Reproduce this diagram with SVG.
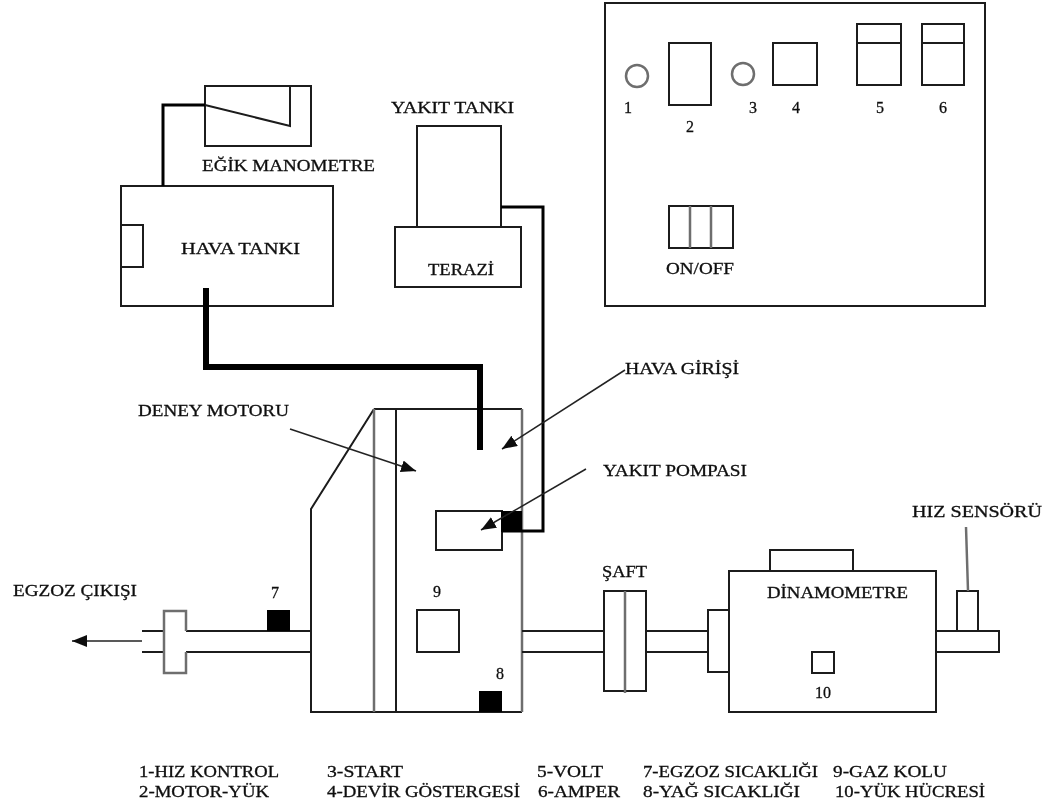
<svg xmlns="http://www.w3.org/2000/svg" width="1042" height="807" viewBox="0 0 1042 807">
<defs>
<marker id="ah" markerUnits="userSpaceOnUse" markerWidth="16" markerHeight="14" refX="15" refY="6" orient="auto"><path d="M0 0L15 6L0 12Z" fill="#111"/></marker>
<filter id="soft" x="-5%" y="-5%" width="110%" height="110%"><feGaussianBlur stdDeviation="0.4"/></filter>
</defs>
<style>
.s{fill:#fff;stroke:#1a1a1a;stroke-width:2}
.n{fill:none;stroke:#1a1a1a;stroke-width:2}
.g{fill:none;stroke:#6e6e6e;stroke-width:2.5}
.b{fill:#000;stroke:none}
.t3{fill:none;stroke:#000;stroke-width:3}
.t5{fill:none;stroke:#000;stroke-width:6}
.a{fill:none;stroke:#222;stroke-width:1.5;marker-end:url(#ah)}
text{font-family:"Liberation Serif","Times New Roman",serif;font-size:16px;fill:#111;stroke:#111;stroke-width:.3}
</style>
<rect width="1042" height="807" fill="#fff"/>
<g filter="url(#soft)">
<g id="panel">
<rect class="s" x="605" y="3" width="380" height="303"/>
<circle class="g" cx="637" cy="76" r="11"/><text x="628" y="113" text-anchor="middle">1</text>
<rect class="n" x="669" y="43" width="42" height="62"/><text x="690" y="132" text-anchor="middle">2</text>
<circle class="g" cx="743" cy="74" r="11"/><text x="753" y="113" text-anchor="middle">3</text>
<rect class="n" x="773" y="43" width="44" height="42"/><text x="796" y="113" text-anchor="middle">4</text>
<rect class="n" x="857" y="24" width="44" height="61"/><path class="n" d="M857 43H901"/><text x="880" y="113" text-anchor="middle">5</text>
<rect class="n" x="922" y="24" width="42" height="61"/><path class="n" d="M922 43H964"/><text x="943" y="113" text-anchor="middle">6</text>
<rect class="n" x="669" y="206" width="64" height="42"/><path class="g" d="M690 206V248M711 206V248"/>
<text x="666" y="274" textLength="68" lengthAdjust="spacingAndGlyphs">ON/OFF</text>
</g>
<g id="manometre">
<rect class="s" x="205" y="86" width="106" height="60"/>
<path class="n" d="M290 86V126L205 105"/>
<text x="202" y="171" textLength="173" lengthAdjust="spacingAndGlyphs">EĞİK MANOMETRE</text>
</g>
<g id="hava-tanki">
<rect class="s" x="121" y="186" width="212" height="120"/>
<rect class="s" x="121" y="225" width="22" height="42"/>
<text x="181" y="254" textLength="119" lengthAdjust="spacingAndGlyphs">HAVA TANKI</text>
</g>
<g id="yakit-tanki">
<rect class="s" x="417" y="126" width="84" height="101"/>
<text x="391" y="113" textLength="123" lengthAdjust="spacingAndGlyphs">YAKIT TANKI</text>
</g>
<g id="terazi">
<rect class="s" x="395" y="227" width="126" height="60"/>
<text x="428" y="275" textLength="66" lengthAdjust="spacingAndGlyphs">TERAZİ</text>
</g>
<g id="motor">
<path class="n" d="M374 409H522M374 409L311 509V712H522"/>
<path class="g" d="M522 409V712M374 409V712"/>
<path class="n" d="M396 409V712"/>
<rect class="s" x="436" y="511" width="66" height="39"/>
<rect class="b" x="501" y="511" width="21" height="21"/>
<rect class="s" x="417" y="610" width="42" height="42"/>
<rect class="b" x="479" y="691" width="23" height="21"/>
<text x="437" y="597" text-anchor="middle">9</text>
<text x="500" y="679" text-anchor="middle">8</text>
<text x="138" y="416" textLength="151" lengthAdjust="spacingAndGlyphs">DENEY MOTORU</text>
</g>
<g id="egzoz">
<path class="n" d="M186 631H311M186 652H311M142 631H164M142 652H164"/>
<path class="g" d="M186 631V611H164V673H186V652"/>
<rect class="b" x="267" y="610" width="23" height="21"/>
<text x="275" y="598" text-anchor="middle">7</text>
<text x="13" y="596" textLength="124" lengthAdjust="spacingAndGlyphs">EGZOZ ÇIKIŞI</text>
</g>
<g id="saft">
<path class="n" d="M522 631H604M522 652H604M646 631H708M646 652H708"/>
<rect class="s" x="604" y="591" width="42" height="100"/>
<path class="g" d="M625 591V693"/>
<text x="602" y="577" textLength="45" lengthAdjust="spacingAndGlyphs">ŞAFT</text>
</g>
<g id="dinamometre">
<rect class="s" x="708" y="610" width="21" height="62"/>
<rect class="s" x="770" y="550" width="83" height="21"/>
<rect class="s" x="729" y="571" width="207" height="141"/>
<rect class="s" x="812" y="652" width="22" height="21"/>
<text x="767" y="598" textLength="141" lengthAdjust="spacingAndGlyphs">DİNAMOMETRE</text>
<text x="823" y="698" text-anchor="middle">10</text>
</g>
<g id="hiz-sensoru">
<path class="n" d="M936 631H999V652H936"/>
<rect class="s" x="957" y="591" width="21" height="40"/>
<path class="g" d="M966 527L968 591"/>
<text x="912" y="517" textLength="130" lengthAdjust="spacingAndGlyphs">HIZ SENSÖRÜ</text>
</g>
<g id="connectors">
<path class="t3" d="M163 186V105H205"/>
<path class="t5" d="M206 288V367H480V450"/>
<path class="t3" d="M501 207H543V531H502"/>
<path class="a" d="M290 429L416 471"/>
<path class="a" d="M625 370L502 449"/>
<path class="a" d="M586 469L481 530"/>
<path class="a" d="M142 641H72"/>
</g>
<g id="labels">
<text x="625" y="374" textLength="114" lengthAdjust="spacingAndGlyphs">HAVA GİRİŞİ</text>
<text x="603" y="476" textLength="144" lengthAdjust="spacingAndGlyphs">YAKIT POMPASI</text>
</g>
<g id="legend">
<text x="139" y="777" textLength="140" lengthAdjust="spacingAndGlyphs">1-HIZ KONTROL</text>
<text x="139" y="797" textLength="130" lengthAdjust="spacingAndGlyphs">2-MOTOR-YÜK</text>
<text x="327" y="777" textLength="76" lengthAdjust="spacingAndGlyphs">3-START</text>
<text x="327" y="797" textLength="193" lengthAdjust="spacingAndGlyphs">4-DEVİR GÖSTERGESİ</text>
<text x="537" y="777" textLength="66" lengthAdjust="spacingAndGlyphs">5-VOLT</text>
<text x="538" y="797" textLength="82" lengthAdjust="spacingAndGlyphs">6-AMPER</text>
<text x="643" y="777" textLength="175" lengthAdjust="spacingAndGlyphs">7-EGZOZ SICAKLIĞI</text>
<text x="643" y="797" textLength="157" lengthAdjust="spacingAndGlyphs">8-YAĞ SICAKLIĞI</text>
<text x="833" y="777" textLength="114" lengthAdjust="spacingAndGlyphs">9-GAZ KOLU</text>
<text x="835" y="797" textLength="150" lengthAdjust="spacingAndGlyphs">10-YÜK HÜCRESİ</text>
</g>
</g>
</svg>
